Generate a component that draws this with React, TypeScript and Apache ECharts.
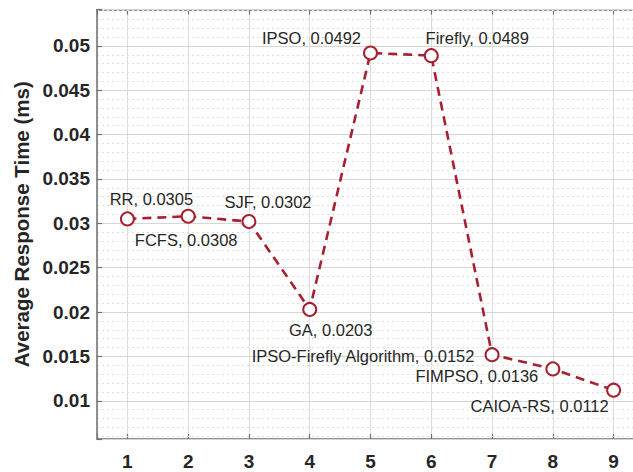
import React, { useEffect, useRef } from 'react';
import * as echarts from 'echarts';

// ---- data ----
const methods = [
  'RR',
  'FCFS',
  'SJF',
  'GA',
  'IPSO',
  'Firefly',
  'IPSO-Firefly Algorithm',
  'FIMPSO',
  'CAIOA-RS',
];
const xPositions = [1, 2, 3, 4, 5, 6, 7, 8, 9];
const responseTimes = [0.0305, 0.0308, 0.0302, 0.0203, 0.0492, 0.0489, 0.0152, 0.0136, 0.0112];
const yTickLabels = ['0.01', '0.015', '0.02', '0.025', '0.03', '0.035', '0.04', '0.045', '0.05'];
const xTickLabels = ['1', '2', '3', '4', '5', '6', '7', '8', '9'];

// ---- layout (label offsets relative to each marker, px) ----
const labelOffsets: [number, number][] = [
  [24, -20],
  [-2, 24],
  [19, -20],
  [21, 21],
  [-59, -15],
  [46, -18],
  [-129, 1],
  [-76, 7],
  [-74, 16],
];

const RED = '#A8202F';
const TEXT = '#262626';
const AXIS = '#6e6e6e';

export default function App() {
  const ref = useRef<HTMLDivElement>(null);
  useEffect(() => {
    if (!ref.current) return;
    const chart = echarts.init(ref.current, null, { renderer: 'svg' });
    const yMin = 0.0057;
    const yMax = 0.0541;
    const findLabel = (v: number, list: string[]) => {
      const hit = list.find((s) => Math.abs(parseFloat(s) - v) < 1e-9);
      return hit ?? '';
    };
    chart.setOption({
      animation: false,
      backgroundColor: '#ffffff',
      grid: {
        left: 97,
        top: 9.5,
        bottom: 33,
        width: 547,
        containLabel: false,
        outerBoundsMode: 'none',
      },
      xAxis: [
        {
          type: 'value',
          min: 0.5,
          max: 9.5,
          splitNumber: 9,
          position: 'bottom',
          axisLine: { show: true, onZero: false, lineStyle: { color: AXIS, width: 1.5 } },
          axisTick: { show: true, inside: true, length: 5, lineStyle: { color: AXIS, width: 1.2 } },
          axisLabel: {
            margin: 13,
            color: TEXT,
            fontFamily: 'Liberation Sans, Arial, sans-serif',
            fontWeight: 'bold',
            fontSize: 19,
            formatter: (v: number) => findLabel(v, xTickLabels),
          },
          splitLine: { show: true, lineStyle: { color: '#dcdcdc', width: 1 } },
        },
        {
          type: 'value',
          min: 0.5,
          max: 9.5,
          splitNumber: 9,
          position: 'top',
          axisLine: { show: true, onZero: false, lineStyle: { color: AXIS, width: 1.5 } },
          axisTick: { show: true, inside: true, length: 5, lineStyle: { color: AXIS, width: 1.2 } },
          axisLabel: { show: false },
          splitLine: { show: false },
        },
      ],
      yAxis: [
        {
          type: 'value',
          min: yMin,
          max: yMax,
          splitNumber: 10,
          position: 'left',
          z: 3,
          name: 'Average Response Time (ms)',
          nameLocation: 'middle',
          nameGap: 63,
          nameTextStyle: {
            color: TEXT,
            fontFamily: 'Liberation Sans, Arial, sans-serif',
            fontWeight: 'bold',
            fontSize: 20.5,
          },
          axisLine: { show: true, onZero: false, lineStyle: { color: AXIS, width: 1.5 } },
          axisTick: { show: true, inside: true, length: 5, lineStyle: { color: AXIS, width: 1.2 } },
          axisLabel: {
            margin: 7,
            color: TEXT,
            fontFamily: 'Liberation Sans, Arial, sans-serif',
            fontWeight: 'bold',
            fontSize: 19,
            formatter: (v: number) => findLabel(v, yTickLabels),
          },
          splitLine: { show: true, lineStyle: { color: '#d6d6d6', width: 1 } },
        },
        {
          type: 'value',
          min: yMin,
          max: yMax,
          splitNumber: 48,
          position: 'left',
          z: 1,
          axisLine: { show: false },
          axisTick: { show: false },
          axisLabel: { show: false },
          splitLine: { show: true, lineStyle: { color: '#dedede', width: 1, type: [2, 3] } },
        },
      ],
      series: [
        {
          type: 'line',
          xAxisIndex: 0,
          yAxisIndex: 0,
          z: 5,
          data: xPositions.map((x, i) => ({
            value: [x, responseTimes[i]],
            label: { offset: labelOffsets[i] },
          })),
          symbol: 'emptyCircle',
          symbolSize: 13,
          itemStyle: { color: RED, borderColor: RED, borderWidth: 2.2 },
          lineStyle: { color: RED, width: 2.6, type: [9, 6] },
          label: {
            show: true,
            position: 'inside',
            align: 'center',
            verticalAlign: 'middle',
            color: TEXT,
            fontFamily: 'Liberation Sans, Arial, sans-serif',
            fontSize: 16.5,
            formatter: (p: any) => `${methods[p.dataIndex]}, ${responseTimes[p.dataIndex]}`,
          },
          emphasis: { disabled: true },
        },
      ],
    });
    return () => chart.dispose();
  }, []);
  return <div ref={ref} style={{ width: 633, height: 472, position: 'absolute', left: 0, top: 0 }} />;
}
